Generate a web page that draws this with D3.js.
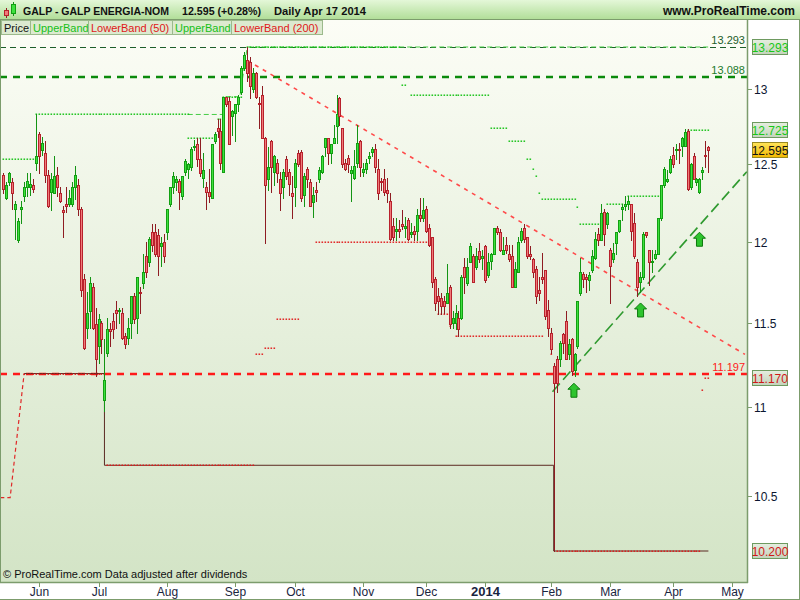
<!DOCTYPE html>
<html><head><meta charset="utf-8">
<script src="https://cdn.jsdelivr.net/npm/d3@7"></script>
<style>
body{margin:0;background:#fff;}
svg{display:block;font-family:"Liberation Sans",Arial,sans-serif;}
</style></head><body>
<svg id="chart" width="800" height="600"></svg>
<script>
// ---- DATA (daily candles, mid-May 2013 .. Apr 17 2014) ----
const openP = [12.43,12.28,12.38,12.38,12.21,12.01,12.21,12.29,12.35,12.35,12.36,12.51,12.70,12.59,12.57,12.43,12.32,12.31,12.43,12.31,12.20,12.24,12.24,12.24,12.35,12.36,12.21,11.77,11.47,11.57,11.72,11.49,11.36,11.50,11.04,11.32,11.46,11.51,11.58,11.57,11.56,11.42,11.41,11.50,11.66,11.53,11.69,11.74,11.91,11.87,12.06,12.06,12.04,11.97,12.00,12.06,12.24,12.35,12.38,12.39,12.29,12.45,12.47,12.48,12.61,12.63,12.53,12.41,12.35,12.32,12.28,12.65,12.74,12.72,12.45,12.95,12.92,12.82,12.84,12.90,12.98,13.15,13.20,13.19,13.00,13.11,12.91,12.96,12.67,12.40,12.65,12.45,12.51,12.40,12.35,12.53,12.45,12.31,12.35,12.57,12.58,12.30,12.47,12.38,12.25,12.33,12.40,12.45,12.61,12.67,12.57,12.64,12.75,12.94,12.74,12.51,12.54,12.44,12.41,12.51,12.65,12.45,12.47,12.54,12.58,12.60,12.47,12.39,12.40,12.33,12.26,12.10,12.07,12.08,12.11,12.09,12.14,12.05,12.07,12.07,12.17,12.15,12.21,12.09,12.03,11.77,11.66,11.65,11.63,11.62,11.72,11.50,11.50,11.53,11.53,11.84,11.74,11.87,11.91,11.84,11.94,11.90,11.97,11.79,11.88,11.92,12.09,12.06,11.92,11.98,11.92,11.91,11.72,11.81,12.01,12.09,12.03,11.92,11.89,11.83,11.70,11.78,11.82,11.58,11.44,11.24,11.28,11.28,11.43,11.51,11.31,11.40,11.22,11.36,11.68,11.80,11.78,11.76,11.82,11.90,12.05,12.01,12.19,12.11,11.95,11.89,11.99,12.07,12.21,12.23,12.24,12.24,12.12,11.87,11.75,11.78,12.06,11.95,11.87,11.90,11.92,12.15,12.36,12.39,12.45,12.56,12.59,12.60,12.62,12.62,12.72,12.35,12.55,12.38,12.32,12.45,12.56,12.61];
const highP = [12.44,12.38,12.45,12.41,12.26,12.15,12.26,12.38,12.44,12.44,12.40,12.83,12.71,12.68,12.65,12.46,12.44,12.55,12.48,12.35,12.23,12.35,12.33,12.38,12.49,12.40,12.22,11.80,11.69,11.78,11.74,11.59,11.55,11.51,11.40,11.53,11.50,11.56,11.63,11.59,11.59,11.44,11.53,11.66,11.68,11.78,11.72,11.92,12.00,12.03,12.11,12.11,12.08,12.03,12.05,12.21,12.35,12.45,12.42,12.40,12.42,12.53,12.51,12.61,12.66,12.67,12.67,12.57,12.38,12.47,12.63,12.71,12.80,12.80,12.95,12.95,12.95,12.86,12.90,12.96,13.16,13.26,13.29,13.22,13.15,13.12,12.95,13.02,12.68,12.61,12.66,12.56,12.53,12.45,12.47,12.55,12.47,12.42,12.53,12.59,12.59,12.44,12.48,12.40,12.35,12.38,12.48,12.56,12.67,12.67,12.63,12.76,12.96,12.95,12.74,12.53,12.56,12.49,12.59,12.76,12.66,12.51,12.53,12.58,12.61,12.63,12.53,12.41,12.47,12.41,12.31,12.15,12.15,12.14,12.20,12.16,12.15,12.12,12.10,12.21,12.28,12.28,12.23,12.11,12.03,11.78,11.71,11.68,11.66,11.86,11.73,11.57,11.61,11.57,11.79,11.90,11.90,11.99,11.92,11.96,11.99,11.95,11.98,11.93,11.93,12.09,12.10,12.08,12.03,12.03,11.98,11.98,11.87,12.03,12.09,12.11,12.03,11.97,11.90,11.85,11.78,11.93,11.82,11.64,11.47,11.26,11.30,11.39,11.44,11.57,11.40,11.41,11.32,11.63,11.90,11.81,11.80,11.81,11.95,12.06,12.09,12.24,12.21,12.19,11.96,11.99,12.06,12.14,12.24,12.29,12.29,12.24,12.18,11.89,11.81,12.06,12.06,11.95,11.95,11.95,12.15,12.36,12.48,12.46,12.55,12.61,12.63,12.64,12.68,12.73,12.73,12.51,12.57,12.41,12.41,12.48,12.65,12.62];
const lowP = [12.31,12.27,12.36,12.21,12.02,12.00,12.12,12.26,12.29,12.30,12.32,12.46,12.44,12.56,12.38,12.22,12.20,12.31,12.29,12.25,12.03,12.19,12.23,12.23,12.27,12.17,11.66,11.34,11.41,11.47,11.46,11.18,11.26,11.32,10.98,11.30,11.36,11.41,11.47,11.50,11.40,11.35,11.37,11.41,11.50,11.44,11.56,11.71,11.78,11.85,11.94,11.91,11.79,11.85,11.87,12.02,12.23,12.31,12.33,12.21,12.27,12.43,12.41,12.46,12.59,12.49,12.42,12.35,12.21,12.25,12.28,12.64,12.68,12.47,12.45,12.89,12.63,12.69,12.65,12.85,12.97,13.13,13.06,12.94,12.98,12.94,12.74,12.67,11.99,12.33,12.32,12.36,12.38,12.20,12.28,12.40,12.30,12.15,12.23,12.49,12.26,12.23,12.35,12.23,12.16,12.26,12.38,12.44,12.55,12.50,12.51,12.64,12.64,12.76,12.48,12.46,12.45,12.26,12.40,12.48,12.42,12.42,12.44,12.51,12.55,12.45,12.27,12.33,12.30,12.25,12.01,12.01,12.01,12.03,12.08,12.03,12.01,12.03,12.01,12.01,12.13,12.13,12.06,11.97,11.72,11.58,11.55,11.55,11.56,11.62,11.47,11.47,11.46,11.42,11.52,11.68,11.73,11.87,11.75,11.83,11.87,11.83,11.75,11.78,11.83,11.92,12.05,11.94,11.92,11.93,11.88,11.72,11.72,11.81,12.00,12.00,11.90,11.89,11.78,11.62,11.64,11.74,11.52,11.42,11.32,10.20,11.09,11.24,11.32,11.28,11.28,11.19,11.18,11.35,11.67,11.72,11.69,11.70,11.81,11.89,11.98,12.01,11.98,12.09,11.62,11.87,11.92,12.06,12.14,12.20,12.21,12.01,11.90,11.66,11.69,11.77,12.03,11.73,11.81,11.89,11.92,12.14,12.35,12.38,12.44,12.48,12.53,12.51,12.55,12.62,12.33,12.34,12.40,12.36,12.31,12.40,12.48,12.45];
const closeP = [12.34,12.36,12.44,12.31,12.24,12.13,12.22,12.35,12.39,12.37,12.34,12.55,12.55,12.64,12.43,12.23,12.40,12.42,12.35,12.26,12.19,12.23,12.28,12.35,12.43,12.21,11.70,11.35,11.56,11.74,11.47,11.28,11.52,11.40,11.16,11.46,11.45,11.46,11.56,11.58,11.41,11.37,11.47,11.66,11.52,11.78,11.68,11.81,11.81,12.02,11.98,11.92,11.91,11.99,11.91,12.21,12.35,12.42,12.40,12.32,12.42,12.52,12.50,12.60,12.62,12.53,12.44,12.46,12.32,12.29,12.63,12.70,12.72,12.51,12.95,12.90,12.63,12.85,12.90,12.95,13.15,13.24,13.11,13.02,13.11,12.95,12.90,12.67,12.36,12.48,12.48,12.55,12.44,12.31,12.45,12.42,12.37,12.29,12.51,12.50,12.28,12.42,12.40,12.23,12.30,12.32,12.46,12.55,12.67,12.57,12.63,12.67,12.83,12.82,12.50,12.47,12.50,12.46,12.49,12.64,12.48,12.47,12.51,12.55,12.60,12.48,12.31,12.38,12.32,12.31,12.02,12.03,12.08,12.07,12.10,12.10,12.02,12.06,12.05,12.17,12.15,12.20,12.07,11.98,11.75,11.62,11.63,11.60,11.60,11.68,11.49,11.53,11.56,11.46,11.78,11.78,11.84,11.97,11.75,11.91,11.89,11.91,11.76,11.87,11.92,12.09,12.06,11.95,11.95,11.95,11.89,11.72,11.83,12.00,12.07,12.02,11.91,11.91,11.81,11.66,11.68,11.77,11.54,11.47,11.34,11.14,11.14,11.38,11.38,11.28,11.37,11.21,11.31,11.63,11.81,11.77,11.77,11.79,11.91,12.02,12.01,12.18,12.05,12.18,11.85,11.93,12.06,12.14,12.22,12.24,12.26,12.07,11.91,11.72,11.78,12.05,12.04,11.87,11.88,11.92,12.15,12.36,12.47,12.40,12.53,12.50,12.60,12.59,12.67,12.71,12.34,12.50,12.40,12.40,12.40,12.46,12.55,12.595];

const monthLabels = ["Jun","Jul","Aug","Sep","Oct","Nov","Dec","2014","Feb","Mar","Apr","May"];
const monthIndex  = [13,33,56,79,99,122,143,163,185,205,226,246];
const priceTicks = [10.5, 11, 11.5, 12, 12.5, 13];

// Donchian-style bands: [fromBar, toBar, level] drawn one point per bar
const upperBand50 = [[1,12,12.53],[12,63,12.83],[63,72,12.67],[73,74,12.80],[75,81,12.95],[83,134,13.293],[135,136,13.03],[138,164,12.96],[165,170,12.74],[171,176,12.65],[177,178,12.53],[179,179,12.47],[180,180,12.42],[181,181,12.31],[182,193,12.27],[194,194,12.22],[195,203,12.11],[204,209,12.24],[211,222,12.29],[231,238,12.725]];
const lowerBand50 = [[8,35,11.197],[36,85,10.67],[86,88,11.31],[89,92,11.35],[93,100,11.52],[106,144,12.00],[147,150,11.55],[151,151,11.48],[153,182,11.42],[185,185,11.31],[187,235,10.20],[236,236,11.10],[237,238,11.17]];
const lowerBand50Start = [[0,10.49],[3.3,10.49],[8,11.197]];
const upperBand200Pts = [[63,12.83],[75,12.83],[75,12.95],[80.5,12.95],[83,13.293],[238,13.293]];
const lowerBand200Pts = [[8,11.197],[35,11.197],[35,10.67],[186,10.67],[186,10.20],[238,10.20]];

const hLevels = [13.293, 13.088, 11.197];
const redTrend = [[83, 13.20], [250.3, 11.31]];
const greenTrend = [[185.6, 11.09], [250.9, 12.45]];
const arrowPts = [[192.8, 11.14], [215.2, 11.62], [235.0, 12.06]];
const axisBoxes = [["13.293", 13.293, "g"], ["12.725", 12.725, "g"], ["12.595", 12.595, "y"], ["11.170", 11.170, "r"], ["10.200", 10.200, "r"]];

// ---- LAYOUT ----
const W = 800, H = 600;
const plotL = 0, plotR = 747, plotT = 20, plotB = 582;
const svg = d3.select("#chart");
const x = d3.scaleLinear().domain([1, 246]).range([3.3, 732.2]);
const y = d3.scaleLog().domain([10.2, 13.293]).range([551, 47]);

const defs = svg.append("defs");
function grad(id, c0, c1){
  const gr = defs.append("linearGradient").attr("id",id).attr("x1",0).attr("y1",0).attr("x2",0).attr("y2",1);
  gr.append("stop").attr("offset","0").attr("stop-color",c0);
  gr.append("stop").attr("offset","1").attr("stop-color",c1);
}
grad("bg","#fcfdf6","#d3e4c6");
grad("hd","#e4f7d8","#afdd96");
grad("boxg","#e6eee0","#c3d3bb");
grad("boxy","#ffe45a","#f2b800");
defs.append("clipPath").attr("id","clip").append("rect").attr("x",plotL+1).attr("y",plotT).attr("width",plotR-plotL-1).attr("height",plotB-plotT);

svg.append("rect").attr("width",W).attr("height",H).attr("fill","#fff");
svg.append("rect").attr("x",plotL).attr("y",plotT).attr("width",plotR-plotL).attr("height",plotB-plotT).attr("fill","url(#bg)");

const g = svg.append("g").attr("clip-path","url(#clip)");

// horizontal user lines
const hStyles = [
  {c:"#1d5e2a", w:1, d:"6,4"},
  {c:"#0b8a0b", w:2.5, d:"7,6"},
  {c:"#ff1a1a", w:2.5, d:"7,6"}
];
hLevels.forEach((v,i)=>{
  const yy = Math.round(y(v)) + (hStyles[i].w===1?0.5:0);
  g.append("line").attr("x1",plotL).attr("x2",plotR).attr("y1",yy).attr("y2",yy)
    .attr("stroke",hStyles[i].c).attr("stroke-width",hStyles[i].w).attr("stroke-dasharray",hStyles[i].d);
});

// band lines
const lineGen = d3.line().x(d=>x(d[0])).y(d=>y(d[1]));
g.append("path").datum(lowerBand50Start).attr("d",lineGen).attr("fill","none")
  .attr("stroke","#e02828").attr("stroke-width",1.2).attr("stroke-dasharray","4,3");
g.append("path").datum(lowerBand200Pts).attr("d",lineGen).attr("fill","none")
  .attr("stroke","#5b2a22").attr("stroke-width",1);
g.append("path").datum(upperBand200Pts).attr("d",lineGen).attr("fill","none")
  .attr("stroke","#45cc45").attr("stroke-width",1).attr("stroke-dasharray","5,3");

function dots(segs, color){
  segs.forEach(s=>{
    for(let i=s[0]; i<=s[1]; i++){
      g.append("rect").attr("x",Math.round(x(i))-0.5).attr("y",Math.round(y(s[2]))-0.5)
        .attr("width",1.6).attr("height",1.4).attr("fill",color);
    }
  });
}
dots(upperBand50, "#11c011");
dots(lowerBand50, "#e01818");

// trend lines
g.append("line").attr("x1",x(redTrend[0][0])).attr("y1",y(redTrend[0][1]))
  .attr("x2",x(redTrend[1][0])).attr("y2",y(redTrend[1][1]))
  .attr("stroke","#ff4a4a").attr("stroke-width",1.6).attr("stroke-dasharray","4,5");
g.append("line").attr("x1",x(greenTrend[0][0])).attr("y1",y(greenTrend[0][1]))
  .attr("x2",x(greenTrend[1][0])).attr("y2",y(greenTrend[1][1]))
  .attr("stroke","#2f9a2f").attr("stroke-width",1.6).attr("stroke-dasharray","11,5");

// candles
const n = openP.length;
for(let i=0;i<n;i++){
  const o=openP[i], h=highP[i], l=lowP[i], c=closeP[i];
  const up = c >= o;
  const cx = Math.round(x(i+1));
  const wick = up ? "#149414" : "#8e1c22";
  g.append("line").attr("x1",cx+0.5).attr("x2",cx+0.5)
    .attr("y1",Math.round(y(h))).attr("y2",Math.round(y(l))+1)
    .attr("stroke",wick).attr("stroke-width",1);
  const yt = Math.round(y(Math.max(o,c))), yb = Math.round(y(Math.min(o,c)));
  g.append("rect").attr("x",cx-0.5).attr("y",yt+0.5)
    .attr("width",2).attr("height",Math.max(1,yb-yt))
    .attr("fill", up ? "#3ee03e" : "#f07a7a")
    .attr("stroke", up ? "#12a012" : "#b8212c").attr("stroke-width",1);
}

// arrows
arrowPts.forEach(p=>{
  const ax = x(p[0]), ay = y(p[1]);
  const pts = [[0,0],[6,6],[3,6],[3,14],[-3,14],[-3,6],[-6,6]].map(q=>[ax+q[0], ay+q[1]]);
  g.append("polygon").attr("points",pts.map(q=>q.join(",")).join(" "))
    .attr("fill","#2ec42e").attr("stroke","#0d7a0d").attr("stroke-width",1);
});

// level labels inside plot
const lvlColors = ["#1d5e2a","#1d7a2c","#ff2020"];
hLevels.forEach((v,i)=>{
  svg.append("text").attr("x",745).attr("y",Math.round(y(v))-3).attr("text-anchor","end")
    .attr("font-size",11).attr("fill",lvlColors[i]).text(v.toFixed(3));
});

// frame lines
svg.append("line").attr("x1",0.5).attr("x2",0.5).attr("y1",plotT).attr("y2",plotB).attr("stroke","#7c9c6c");
svg.append("line").attr("x1",plotR+0.5).attr("x2",plotR+0.5).attr("y1",plotT).attr("y2",plotB+1).attr("stroke","#7c9c6c").attr("stroke-width",1.5);
svg.append("line").attr("x1",0).attr("x2",plotR+1).attr("y1",plotB+0.5).attr("y2",plotB+0.5).attr("stroke","#7c9c6c").attr("stroke-width",1.5);
svg.append("line").attr("x1",0).attr("x2",W).attr("y1",H-0.5).attr("y2",H-0.5).attr("stroke","#7c9c6c");
svg.append("line").attr("x1",W-0.5).attr("x2",W-0.5).attr("y1",20).attr("y2",H).attr("stroke","#7c9c6c");

// header
svg.append("rect").attr("x",0).attr("y",0).attr("width",W).attr("height",20).attr("fill","url(#hd)");
svg.append("line").attr("x1",0).attr("x2",W).attr("y1",19.5).attr("y2",19.5).attr("stroke","#7c9c6c");
svg.append("line").attr("x1",6.5).attr("x2",6.5).attr("y1",8).attr("y2",18).attr("stroke","#8e1c22");
svg.append("rect").attr("x",4.5).attr("y",10.5).attr("width",4).attr("height",5).attr("fill","#f07a7a").attr("stroke","#b8212c");
svg.append("line").attr("x1",13.5).attr("x2",13.5).attr("y1",2).attr("y2",16).attr("stroke","#149414");
svg.append("rect").attr("x",11.5).attr("y",4.5).attr("width",4).attr("height",9).attr("fill","#3ee03e").attr("stroke","#12a012");
const headerParts = [["GALP - GALP ENERGIA-NOM",23,146],["12.595 (+0.28%)",182,79],["Daily  Apr 17 2014",274,92]];
headerParts.forEach(p=>{
  svg.append("text").attr("x",p[1]).attr("y",15).attr("font-size",11.5).attr("font-weight","bold")
    .attr("fill","#111").attr("textLength",p[2]).attr("lengthAdjust","spacingAndGlyphs").text(p[0]);
});
svg.append("text").attr("x",795).attr("y",15).attr("text-anchor","end").attr("font-size",12).attr("font-weight","bold").attr("fill","#111").text("www.ProRealTime.com");

// legend
const legItems = [["Price","#111",1,30],["UpperBand","#17c017",30,88],["LowerBand (50)","#e01818",88,172],["UpperBand","#17c017",172,231],["LowerBand (200)","#e01818",231,322]];
legItems.forEach(it=>{
  svg.append("rect").attr("x",it[2]+0.5).attr("y",20.5).attr("width",it[3]-it[2]).attr("height",14)
    .attr("fill","#dcead0").attr("stroke","#9cba8c");
  svg.append("text").attr("x",it[2]+3).attr("y",31.5).attr("font-size",11).attr("fill",it[1]).text(it[0]);
});

// right axis ticks
priceTicks.forEach(v=>{
  const yy = Math.round(y(v))+0.5;
  svg.append("line").attr("x1",plotR).attr("x2",plotR+5).attr("y1",yy).attr("y2",yy).attr("stroke","#7c9c6c");
  svg.append("text").attr("x",754).attr("y",yy+4).attr("font-size",12).attr("fill","#0c1630").text(d3.format("")(v));
});
// value boxes
axisBoxes.forEach(b=>{
  const yy = Math.round(y(b[1]));
  svg.append("rect").attr("x",752.5).attr("y",yy-7.5).attr("width",35).attr("height",15)
    .attr("fill", b[2]==="y" ? "url(#boxy)" : "url(#boxg)").attr("stroke", b[2]==="y" ? "#9a8a20" : "#6e9a60");
  svg.append("text").attr("x",770).attr("y",yy+4.5).attr("text-anchor","middle").attr("font-size",12)
    .attr("fill", b[2]==="g" ? "#18c818" : (b[2]==="r" ? "#d01818" : "#111")).text(b[0]);
});

// bottom axis
monthIndex.forEach((m,i)=>{
  const xx = Math.round(x(m))+0.5;
  svg.append("line").attr("x1",xx).attr("x2",xx).attr("y1",plotB+1).attr("y2",plotB+5).attr("stroke","#7c9c6c");
  svg.append("text").attr("x",xx).attr("y",596).attr("text-anchor","middle")
    .attr("font-size", monthLabels[i]==="2014"?13:12).attr("font-weight", monthLabels[i]==="2014"?"bold":"normal")
    .attr("fill","#1a2440").text(monthLabels[i]);
});
svg.append("text").attr("x",3).attr("y",578).attr("font-size",11).attr("fill","#111").text("© ProRealTime.com  Data adjusted after dividends");
</script>
</body></html>
